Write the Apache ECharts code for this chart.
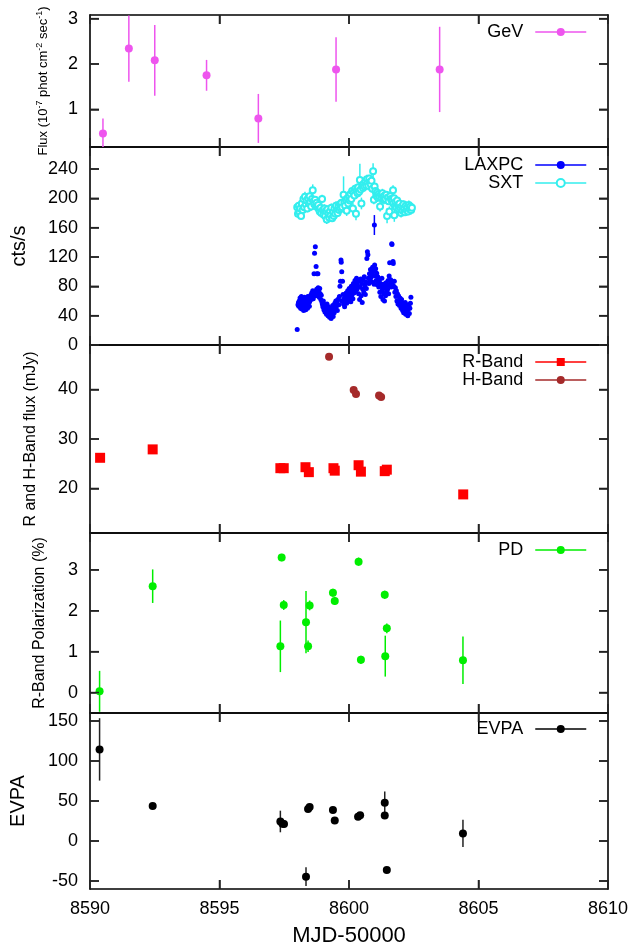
<!DOCTYPE html>
<html><head><meta charset="utf-8">
<script src="https://cdn.jsdelivr.net/npm/echarts@6/dist/echarts.min.js"></script>
<style>html,body{margin:0;padding:0;background:#fff}#c{width:632px;height:950px}</style>
</head><body><div id="c"></div>
<script>
// ---------------- DATA ----------------
const xMin = 8590, xMax = 8610, xStep = 5;

// Fermi GeV flux (1e-7 ph cm^-2 s^-1)
const gevMjd  = [8590.5, 8591.5, 8592.5, 8594.5, 8596.5, 8599.5, 8603.5];
const gevFlux = [0.47, 2.34, 2.08, 1.75, 0.80, 1.88, 1.88];
const gevErr  = [0.33, 0.73, 0.78, 0.34, 0.54, 0.71, 0.94];

// AstroSat LAXPC count rate [MJD, cts/s, err]
const laxpc = [
[8598.00,21,1],
[8598.03,55,1],[8598.05,58,1],[8598.06,53,1],[8598.08,60,1],[8598.10,56,1],[8598.11,64,1],[8598.13,50,1],[8598.15,59,1],[8598.16,66,1],[8598.18,49,1],
[8598.20,57,1],[8598.21,62,1],[8598.23,54,1],[8598.25,47,1],[8598.26,60,1],[8598.28,65,1],[8598.30,52,1],[8598.31,58,1],[8598.33,48,1],[8598.35,63,1],
[8598.36,55,1],[8598.38,61,1],[8598.40,50,1],[8598.41,66,1],[8598.43,57,1],[8598.45,62,1],[8598.47,53,1],[8598.48,59,1],
[8598.50,64,1],[8598.52,68,1],[8598.54,62,1],[8598.56,71,1],[8598.58,66,1],[8598.60,74,1],[8598.62,63,1],[8598.64,69,1],[8598.65,97,1],[8598.67,125,1],
[8598.69,72,1],[8598.70,134,1],[8598.72,67,1],[8598.73,107,1],[8598.75,76,1],[8598.76,97,1],[8598.78,70,1],[8598.80,97,1],[8598.81,78,1],[8598.83,73,1],
[8598.85,65,1],[8598.87,77,1],[8598.89,70,1],[8598.91,62,1],[8598.93,68,1],[8598.95,59,1],
[8598.97,56,1],[8598.99,52,1],[8599.01,60,1],[8599.03,48,1],[8599.05,55,1],[8599.07,45,1],[8599.09,53,1],[8599.11,50,1],[8599.13,42,1],[8599.15,56,1],
[8599.17,47,1],[8599.19,40,1],[8599.21,52,1],[8599.23,44,1],[8599.25,38,1],[8599.27,49,1],[8599.29,43,1],[8599.31,36,1],[8599.33,47,1],[8599.35,41,1],
[8599.37,54,1],[8599.39,39,1],[8599.41,50,1],[8599.43,44,1],
[8599.45,57,1],[8599.47,49,1],[8599.49,60,1],[8599.51,52,1],[8599.53,58,1],[8599.55,47,1],[8599.57,62,1],[8599.59,62,1],[8599.61,55,1],[8599.63,66,1],
[8599.65,80,1],[8599.67,87,1],[8599.69,116,1],[8599.70,113,1],[8599.72,100,1],[8599.73,60,1],[8599.75,87,1],[8599.77,69,1],
[8599.79,56,1],[8599.81,63,1],[8599.83,52,1],[8599.85,68,1],[8599.87,60,1],[8599.89,71,1],[8599.91,57,1],[8599.93,65,1],[8599.95,74,1],[8599.97,61,1],
[8599.99,69,1],[8600.01,77,1],[8600.03,64,1],[8600.05,72,1],[8600.07,59,1],[8600.09,80,1],[8600.11,68,1],[8600.13,75,1],[8600.15,63,1],[8600.17,84,1],
[8600.19,71,1],[8600.21,78,1],[8600.23,88,1],[8600.25,73,1],[8600.27,82,1],[8600.29,91,1],[8600.31,76,1],[8600.33,86,1],[8600.35,80,1],
[8600.37,70,1],[8600.39,88,1],[8600.41,62,1],[8600.43,79,1],[8600.45,90,1],[8600.47,67,1],[8600.49,84,1],[8600.51,58,1],[8600.53,76,1],[8600.55,89,1],
[8600.57,72,1],[8600.59,93,1],[8600.61,81,1],[8600.63,69,1],[8600.65,86,1],[8600.67,77,1],[8600.69,118,1],[8600.71,127,1],[8600.73,123,1],[8600.75,91,1],
[8600.77,84,1],[8600.79,97,1],[8600.81,88,1],[8600.83,103,1],[8600.85,92,1],[8600.87,100,1],[8600.89,86,1],[8600.91,106,1],[8600.93,95,1],[8600.95,101,1],
[8600.97,83,1],[8600.98,163.6,13.6],[8600.99,109,1],[8601.01,94,1],[8601.03,104,1],[8601.05,88,1],[8601.07,98,1],[8601.09,82,1],[8601.11,93,1],[8601.13,86,1],
[8601.15,79,1],[8601.17,88,1],[8601.19,72,1],[8601.21,84,1],[8601.23,66,1],[8601.25,80,1],[8601.27,91,1],[8601.29,75,1],[8601.31,62,1],[8601.33,83,1],
[8601.35,70,1],[8601.37,60,1],[8601.39,78,1],[8601.41,67,1],[8601.43,85,1],[8601.45,73,1],[8601.47,81,1],
[8601.49,76,1],[8601.51,88,1],[8601.53,70,1],[8601.55,94,1],[8601.57,112,1],[8601.59,83,1],[8601.61,89,1],[8601.63,79,1],[8601.65,138,1],[8601.66,137,1],
[8601.68,86,1],[8601.70,114,1],[8601.71,111,1],[8601.73,80,1],[8601.75,87,1],[8601.77,72,1],
[8601.79,78,1],[8601.81,66,1],[8601.83,74,1],[8601.85,60,1],[8601.87,70,1],[8601.89,56,1],[8601.91,67,1],[8601.93,61,1],[8601.95,54,1],[8601.97,64,1],
[8601.99,58,1],[8602.01,50,1],[8602.03,62,1],[8602.05,53,1],[8602.07,47,1],[8602.09,57,1],[8602.11,44,1],[8602.13,52,1],[8602.15,48,1],[8602.17,58,1],
[8602.19,42,1],[8602.21,51,1],[8602.23,46,1],[8602.25,55,1],[8602.27,40,1],[8602.29,49,1],[8602.31,53,1],[8602.33,43,1],[8602.35,50,1],[8602.37,57,1],
[8602.39,65,1]
];

// AstroSat SXT count rate [MJD, cts/s, err]
const sxt = [
[8598.00,188,5],[8598.03,179,5],[8598.06,190,5],[8598.09,181,5],[8598.12,186,6],[8598.15,176,5],[8598.18,193,6],[8598.21,184,5],[8598.24,199,6],[8598.27,188,5],
[8598.30,202,7],[8598.33,192,5],[8598.36,197,6],[8598.39,186,5],[8598.42,200,6],[8598.45,193,5],[8598.48,203,7],[8598.51,195,5],[8598.54,189,6],[8598.57,199,5],
[8598.60,211,8],[8598.63,196,5],[8598.66,192,6],[8598.69,198,5],[8598.72,190,5],[8598.75,194,6],[8598.78,188,5],[8598.81,191,5],[8598.84,185,6],
[8598.87,182,5],[8598.90,187,5],[8598.93,180,6],[8598.96,199,6],[8598.99,184,5],[8599.02,178,5],[8599.05,186,6],[8599.08,176,5],[8599.11,183,5],[8599.14,171,6],
[8599.17,185,5],[8599.20,179,5],[8599.23,174,6],[8599.26,182,5],[8599.29,177,5],[8599.32,187,6],[8599.35,173,5],[8599.38,181,5],[8599.41,176,6],[8599.44,186,5],
[8599.47,179,5],[8599.50,190,6],[8599.53,183,5],[8599.56,180,5],
[8599.59,189,5],[8599.62,184,5],[8599.65,192,6],[8599.68,186,5],[8599.71,194,5],[8599.74,188,6],[8599.79,205,25],[8599.82,195,6],[8599.85,190,5],[8599.88,198,6],
[8599.91,183,7],[8599.94,200,5],[8599.97,193,6],[8600.00,202,5],
[8600.03,197,6],[8600.06,206,5],[8600.09,199,6],[8600.12,210,5],[8600.15,186,8],[8600.18,208,6],[8600.21,204,5],[8600.24,213,6],[8600.27,179,9],[8600.30,211,5],
[8600.33,207,6],[8600.36,215,5],[8600.39,209,6],[8600.42,225,22],[8600.45,212,5],[8600.48,193,8],[8600.51,218,6],
[8600.54,214,5],[8600.57,220,6],[8600.60,216,5],[8600.63,223,6],[8600.66,218,5],[8600.69,226,6],[8600.72,221,5],[8600.75,217,6],[8600.78,227,5],[8600.81,222,6],
[8600.84,219,5],[8600.87,224,6],[8600.90,213,5],[8600.93,237,11],[8600.96,198,6],[8600.99,216,5],
[8601.02,210,5],[8601.05,204,6],[8601.08,208,5],[8601.11,201,6],[8601.14,206,5],[8601.17,203,5],[8601.20,189,7],[8601.23,205,6],[8601.26,200,5],[8601.29,207,6],
[8601.32,202,5],[8601.35,198,6],[8601.38,204,5],[8601.41,199,6],[8601.44,205,5],[8601.47,176,10],[8601.50,201,6],[8601.53,196,5],[8601.56,182,7],[8601.59,203,6],
[8601.62,199,6],[8601.65,197,5],[8601.70,211,7],[8601.75,177,9],
[8601.68,197,5],[8601.71,193,6],[8601.74,200,5],[8601.77,190,6],[8601.80,195,5],[8601.83,188,6],[8601.86,197,5],[8601.89,191,6],[8601.92,185,5],[8601.95,193,6],
[8601.98,187,5],[8602.01,180,6],[8602.04,189,5],[8602.07,183,6],[8602.10,192,5],[8602.13,186,6],[8602.16,181,5],[8602.19,190,6],[8602.22,184,5],[8602.25,188,6],
[8602.28,182,5],[8602.31,191,6],[8602.34,185,5],[8602.37,189,5],[8602.40,184,6],[8602.43,187,5]
];

// Optical R-band and NIR H-band flux (mJy)
const rMjd  = [8590.39, 8592.42, 8597.35, 8597.48, 8598.32, 8598.45, 8599.40, 8599.45, 8600.37, 8600.46, 8601.38, 8601.46, 8604.41];
const rFlux = [26.2, 27.9, 24.1, 24.1, 24.3, 23.3, 24.1, 23.6, 24.7, 23.4, 23.5, 23.8, 18.8];
const hMjd  = [8599.23, 8600.18, 8600.27, 8601.16, 8601.24];
const hFlux = [46.6, 39.9, 39.1, 38.8, 38.5];

// R-band polarization degree (%)
const pdMjd = [8590.37, 8592.42, 8597.35, 8597.40, 8597.48, 8598.34, 8598.42, 8598.48, 8599.38, 8599.45, 8600.37, 8600.46, 8601.38, 8601.40, 8601.46, 8604.40];
const pdVal = [0.03, 2.60, 1.13, 3.30, 2.14, 1.72, 1.13, 2.13, 2.44, 2.24, 3.20, 0.80, 2.39, 0.89, 1.57, 0.79];
const pdErr = [0.50, 0.41, 0.63, 0.09, 0.12, 0.76, 0.14, 0.12, 0.10, 0.10, 0.10, 0.10, 0.10, 0.50, 0.12, 0.58];

// Electric vector position angle (deg)
const evpaMjd = [8590.37, 8592.42, 8597.35, 8597.43, 8597.49, 8598.34, 8598.42, 8598.48, 8599.38, 8599.45, 8600.35, 8600.43, 8601.38, 8601.38, 8601.46, 8604.40];
const evpaVal = [114.5, 43.8, 24.4, 21.5, 21.1, -44.6, 40.1, 42.6, 38.9, 25.6, 30.2, 32.2, 47.9, 31.8, -36.4, 9.5];
const evpaErr = [39, 3, 13.5, 3, 3, 11.8, 3, 3, 3, 3, 3, 3, 14, 3, 3, 17];

// tick values
const xTicks    = [8595, 8600, 8605];
const gevTicks  = [1, 2, 3];
const ctsTicks  = [0, 40, 80, 120, 160, 200, 240];
const fluxTicks = [20, 30, 40];
const pdTicks   = [0, 1, 2, 3];
const evpaTicks = [-50, 0, 50, 100, 150];

// ---------------- CHART ----------------
const FONT = '"Liberation Sans", Arial, Helvetica, sans-serif';
const zip3 = (a, b, c) => a.map((v, i) => [v, b[i], c ? c[i] : 0]);
const TICK_LEN = 9, TICK_COLOR = '#222', TICK_W = 1.5;

const panels = [
  {top: 15,  height: 132, min: 0.17, max: 3.08, ticks: gevTicks,
   name: 'Flux (10{sup|-7} phot cm{sup|-2} sec{sup|-1})', nameSize: 13, nameGap: 38},
  {top: 147, height: 198, min: 0, max: 270, ticks: ctsTicks,
   name: 'cts/s', nameSize: 20, nameGap: 61},
  {top: 345, height: 188, min: 11, max: 49, ticks: fluxTicks,
   name: 'R and H-Band flux (mJy)', nameSize: 16, nameGap: 51},
  {top: 533, height: 180, min: -0.5, max: 3.9, ticks: pdTicks,
   name: 'R-Band Polarization (%)', nameSize: 16, nameGap: 42},
  {top: 713, height: 176, min: -60, max: 160, ticks: evpaTicks,
   name: 'EVPA', nameSize: 20, nameGap: 62}
];

const grid = [], xAxis = [], yAxis = [], series = [];
const border = {show: true, onZero: false, lineStyle: {color: '#000', width: 1.6}};
const tickStyle = {show: true, inside: true, length: TICK_LEN, lineStyle: {color: TICK_COLOR, width: TICK_W}};
panels.forEach((p, i) => {
  grid.push({left: 90, right: 24, top: p.top, height: p.height, show: false});
  const last = i === panels.length - 1;
  xAxis.push({type: 'value', gridIndex: i, position: 'bottom', min: xMin, max: xMax, interval: xStep,
    axisLine: border, splitLine: {show: false}, axisTick: tickStyle,
    axisLabel: {show: last, formatter: v => String(v),
                fontSize: 18, fontFamily: FONT, color: '#000', margin: 11},
    name: last ? 'MJD-50000' : '', nameLocation: 'middle', nameGap: 36,
    nameTextStyle: {fontSize: 22, fontFamily: FONT, color: '#000'}});
  xAxis.push({type: 'value', gridIndex: i, position: 'top', min: xMin, max: xMax, interval: xStep,
    axisLine: border, splitLine: {show: false}, axisTick: tickStyle, axisLabel: {show: false}});
  yAxis.push({type: 'value', gridIndex: i, position: 'left', min: p.min, max: p.max,
    axisLine: border, splitLine: {show: false},
    axisTick: Object.assign({customValues: p.ticks}, tickStyle),
    axisLabel: {customValues: p.ticks, fontSize: 18, fontFamily: FONT, color: '#000', margin: 12},
    name: p.name, nameLocation: 'middle', nameGap: p.nameGap, nameMoveOverlap: false,
    nameTextStyle: {fontSize: p.nameSize, fontFamily: FONT, color: '#000',
      rich: {sup: {fontSize: 9, fontFamily: FONT, color: '#000', padding: [0, 0, 8, 0]}}}});
  yAxis.push({type: 'value', gridIndex: i, position: 'right', min: p.min, max: p.max,
    axisLine: border, splitLine: {show: false},
    axisTick: Object.assign({customValues: p.ticks}, tickStyle), axisLabel: {show: false}});
});

function addSet(panel, name, data, color, symbol, size, barColor, z) {
  const xi = panel * 2, yi = panel * 2;
  series.push({type: 'custom', xAxisIndex: xi, yAxisIndex: yi, data: data, clip: true, silent: true, z: z || 2,
    encode: {x: 0, y: 1},
    renderItem: (params, api) => {
      const x = api.value(0), y = api.value(1), e = api.value(2);
      const a = api.coord([x, y - e]), b = api.coord([x, y + e]);
      return {type: 'line', shape: {x1: a[0], y1: a[1], x2: b[0], y2: b[1]},
              style: {stroke: barColor || color, lineWidth: 1.5}};
    }});
  series.push({type: 'line', name: name, xAxisIndex: xi, yAxisIndex: yi,
    data: data.map(d => [d[0], d[1]]), symbol: symbol, symbolSize: size, showSymbol: true,
    showAllSymbol: true, clip: true, z: (z || 2) + 1,
    itemStyle: {color: color, borderColor: color, borderWidth: symbol === 'emptyCircle' ? 1.2 : 0},
    lineStyle: {opacity: 0, width: 1}, emphasis: {disabled: true}});
}
addSet(0, 'GeV', zip3(gevMjd, gevFlux, gevErr), '#ee55ee', 'circle', 8);
addSet(1, 'LAXPC', laxpc, '#0000ff', 'circle', 5);
addSet(1, 'SXT', sxt, '#33eeee', 'emptyCircle', 6, null, 4);
addSet(2, 'R-Band', zip3(rMjd, rFlux), '#ff0000', 'rect', 10);
addSet(2, 'H-Band', zip3(hMjd, hFlux), '#a52a2a', 'circle', 8);
addSet(3, 'PD', zip3(pdMjd, pdVal, pdErr), '#00ee00', 'circle', 8);
addSet(4, 'EVPA', zip3(evpaMjd, evpaVal, evpaErr), '#000000', 'circle', 8, '#222');

const legTops = [23, 156, 353, 541, 720];
const legNames = [['GeV'], ['LAXPC', 'SXT'], ['R-Band', 'H-Band'], ['PD'], ['EVPA']];
const legend = legNames.map((names, i) => ({
  data: names, orient: 'vertical', right: 45, top: legTops[i], align: 'right', padding: 0,
  itemWidth: 51, itemHeight: 10, itemGap: 0, selectedMode: false,
  textStyle: {fontSize: 18, fontFamily: FONT, color: '#000', padding: [0, 7, 0, 0]},
  lineStyle: {opacity: 1, width: 1.5}
}));

const chart = echarts.init(document.getElementById('c'), null, {renderer: 'canvas'});
chart.setOption({animation: false, backgroundColor: '#fff', grid, xAxis, yAxis, series, legend});

// Mirrored inward tick marks, positioned through the chart's own axis scales.
const tickEls = [];
panels.forEach((p, i) => {
  const finder = {xAxisIndex: 2 * i, yAxisIndex: 2 * i};
  const seg = (x1, y1, x2, y2) => tickEls.push({type: 'line', silent: true, z: 100,
    shape: {x1, y1, x2, y2}, style: {stroke: TICK_COLOR, lineWidth: TICK_W}});
  p.ticks.forEach(v => {
    const L = chart.convertToPixel(finder, [xMin, v]);
    const R = chart.convertToPixel(finder, [xMax, v]);
    if (L && R) { seg(L[0], L[1], L[0] + TICK_LEN, L[1]); seg(R[0] - TICK_LEN, R[1], R[0], R[1]); }
  });
  xTicks.forEach(v => {
    const B = chart.convertToPixel(finder, [v, p.min]);
    const T = chart.convertToPixel(finder, [v, p.max]);
    if (B && T) { seg(B[0], B[1], B[0], B[1] - TICK_LEN); seg(T[0], T[1], T[0], T[1] + TICK_LEN); }
  });
});
chart.setOption({graphic: {elements: tickEls}});
</script></body></html>
